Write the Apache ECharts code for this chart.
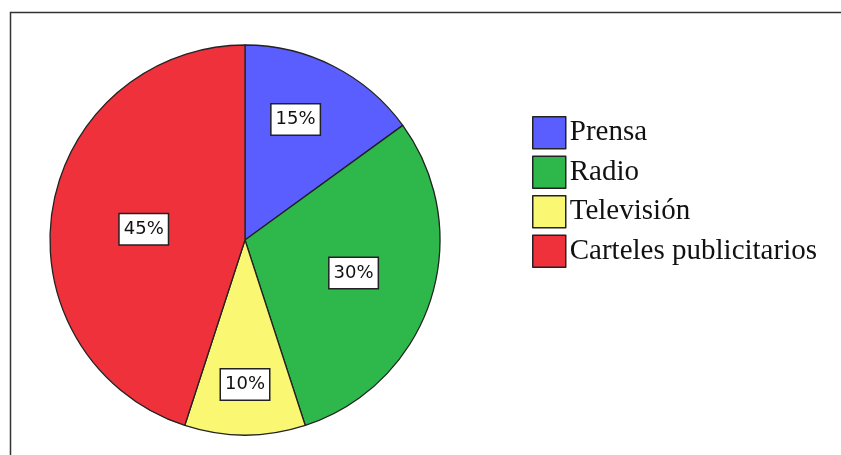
<!DOCTYPE html>
<html>
<head>
<meta charset="utf-8">
<script src="https://cdn.jsdelivr.net/npm/echarts@6/dist/echarts.min.js"></script>
<style>
  html, body { margin: 0; padding: 0; background: #fff; }
  #chart { width: 841px; height: 455px; }
</style>
</head>
<body>
<div id="chart"></div>
<script>
var categories = ['Prensa', 'Radio', 'Televisión', 'Carteles publicitarios'];
var percents = [15, 30, 10, 45];
var colors = ['#5a5eff', '#2eb84b', '#faf773', '#ef313b'];
// nudges of the inside labels, as in the original
var labelShift = [[5, -31], [13, 2], [0, 44], [-2, 5]];

var chart = echarts.init(document.getElementById('chart'));

var option = {
    animation: false,
    backgroundColor: '#fff',
    graphic: [
        {
            type: 'polyline',
            shape: { points: [[10.5, 455], [10.5, 12.5], [841, 12.5]] },
            style: { stroke: '#333', lineWidth: 1.5, fill: null }
        }
    ],
    legend: {
        orient: 'vertical',
        left: 527,
        top: 111,
        itemWidth: 33,
        itemHeight: 32,
        itemGap: 6,
        icon: 'rect',
        itemStyle: { borderColor: '#222', borderWidth: 1.5 },
        textStyle: {
            fontFamily: 'Liberation Serif',
            fontSize: 29,
            color: '#111',
            padding: [2, 0, 0, -1]
        },
        data: categories
    },
    series: [
        {
            type: 'pie',
            center: [245, 240],
            radius: 195,
            startAngle: 90,
            clockwise: true,
            label: {
                position: 'inside',
                formatter: '{d}%',
                fontFamily: 'DejaVu Sans',
                fontSize: 18,
                color: '#111',
                backgroundColor: '#fff',
                borderColor: '#222',
                borderWidth: 1.5,
                padding: [7, 4, 5, 4]
            },
            labelLayout: function (p) {
                var s = labelShift[p.dataIndex];
                return { dx: s[0], dy: s[1] };
            },
            labelLine: { show: false },
            itemStyle: { borderColor: '#222', borderWidth: 1.3 },
            emphasis: { disabled: true },
            data: categories.map(function (c, i) {
                return { name: c, value: percents[i], itemStyle: { color: colors[i] } };
            })
        }
    ]
};

chart.setOption(option);
</script>
</body>
</html>
